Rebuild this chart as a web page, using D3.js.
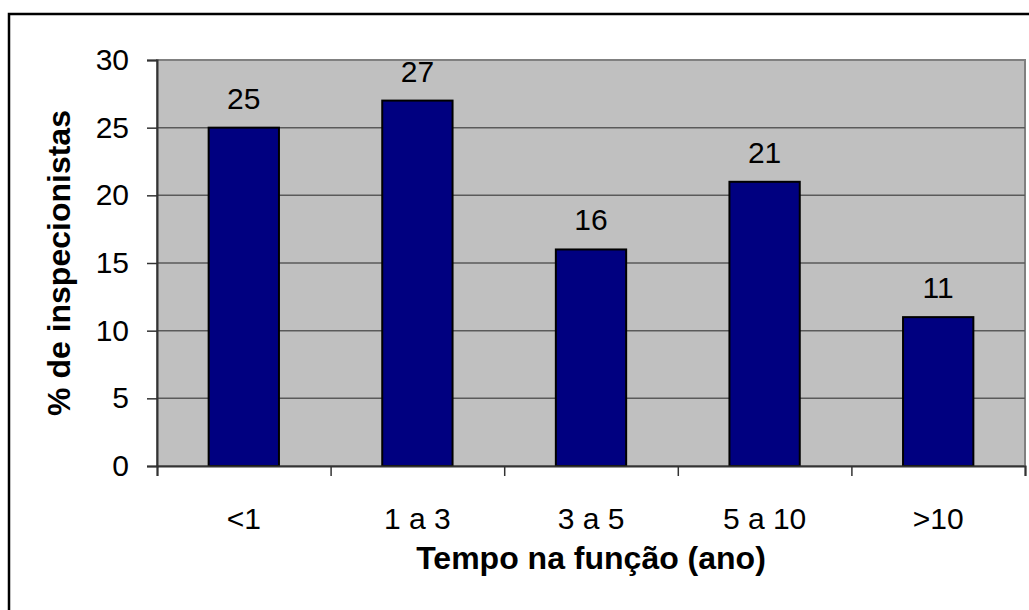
<!DOCTYPE html>
<html>
<head>
<meta charset="utf-8">
<script src="https://cdn.jsdelivr.net/npm/d3@7"></script>
<style>
body { margin: 0; background: #fff; }
text { font-family: "Liberation Sans", Arial, sans-serif; }
</style>
</head>
<body>
<div id="chart"></div>
<script>
var width = 1029;
var height = 610;

// data
var categories = ["<1", "1 a 3", "3 a 5", "5 a 10", ">10"];
var values = [25, 27, 16, 21, 11];
var yTicks = [0, 5, 10, 15, 20, 25, 30];

var plotLeft = 157, plotRight = 1025, plotTop = 60, plotBottom = 466;

var svg = d3.select("#chart")
    .append("svg")
    .attr("width", width)
    .attr("height", height);

// outer frame (runs past the right and bottom edge)
svg.append("rect")
    .attr("x", 9)
    .attr("y", 14)
    .attr("width", 1200)
    .attr("height", 800)
    .attr("fill", "white")
    .attr("stroke", "black")
    .attr("stroke-width", 2.5);

var xScale = d3.scaleBand().domain(categories).range([plotLeft, plotRight]).paddingInner(0.595).paddingOuter(0.2975);
var xBound = d3.scaleLinear().domain([0, categories.length]).range([plotLeft, plotRight]);
var yScale = d3.scaleLinear().domain([0, 30]).range([plotBottom, plotTop]);

// plot area
svg.append("rect")
    .attr("x", plotLeft)
    .attr("y", plotTop)
    .attr("width", plotRight - plotLeft)
    .attr("height", plotBottom - plotTop)
    .attr("fill", "#c0c0c0")
    .attr("stroke", "#808080")
    .attr("stroke-width", 2);

// gridlines
svg.append("g")
    .selectAll("line")
    .data(yTicks.filter(function(d) { return d > 0 && d < 30; }))
    .enter()
    .append("line")
    .attr("x1", plotLeft)
    .attr("x2", plotRight)
    .attr("y1", function(d) { return yScale(d); })
    .attr("y2", function(d) { return yScale(d); })
    .attr("stroke", "#5a5a5a")
    .attr("stroke-width", 1.5);

// bars
svg.append("g")
    .selectAll("rect")
    .data(values)
    .enter()
    .append("rect")
    .attr("x", function(d, i) { return xScale(categories[i]); })
    .attr("y", function(d) { return yScale(d); })
    .attr("width", xScale.bandwidth())
    .attr("height", function(d) { return yScale(0) - yScale(d); })
    .attr("fill", "#000080")
    .attr("stroke", "black")
    .attr("stroke-width", 2);

// value labels
svg.append("g")
    .selectAll("text")
    .data(values)
    .enter()
    .append("text")
    .attr("x", function(d, i) { return xScale(categories[i]) + xScale.bandwidth() / 2; })
    .attr("y", function(d) { return yScale(d) - 19; })
    .attr("text-anchor", "middle")
    .style("font-size", "30px")
    .text(function(d) { return d; });

// y axis
var yAxis = d3.axisLeft(yScale).tickValues(yTicks).tickSize(10).tickPadding(18);
var gy = svg.append("g")
    .attr("transform", "translate(" + plotLeft + ",0)")
    .call(yAxis);
gy.select(".domain").attr("stroke", "#333").attr("stroke-width", 2);
gy.selectAll(".tick line").attr("stroke", "#333").attr("stroke-width", 1.5);
gy.selectAll(".tick text")
    .style("font-size", "30px")
    .style("font-family", "Liberation Sans, Arial, sans-serif")
    .attr("fill", "black");

// x axis: ticks on the category boundaries
var xAxis = d3.axisBottom(xBound).tickValues(d3.range(categories.length + 1)).tickSize(10).tickFormat("");
var gx = svg.append("g")
    .attr("transform", "translate(0," + plotBottom + ")")
    .call(xAxis);
gx.select(".domain").attr("stroke", "#333").attr("stroke-width", 2);
gx.selectAll(".tick line").attr("stroke", "#333").attr("stroke-width", 1.5);

svg.append("g")
    .selectAll("text")
    .data(categories)
    .enter()
    .append("text")
    .attr("x", function(d) { return xScale(d) + xScale.bandwidth() / 2; })
    .attr("y", 529)
    .attr("text-anchor", "middle")
    .style("font-size", "30px")
    .text(function(d) { return d; });

// axis titles
svg.append("text")
    .attr("x", (plotLeft + plotRight) / 2)
    .attr("y", 569)
    .attr("text-anchor", "middle")
    .style("font-size", "32px")
    .style("font-weight", "bold")
    .text("Tempo na função (ano)");

svg.append("text")
    .attr("transform", "translate(70," + (plotTop + plotBottom) / 2 + ") rotate(-90)")
    .attr("text-anchor", "middle")
    .style("font-size", "32px")
    .style("font-weight", "bold")
    .text("% de inspecionistas");
</script>
</body>
</html>
